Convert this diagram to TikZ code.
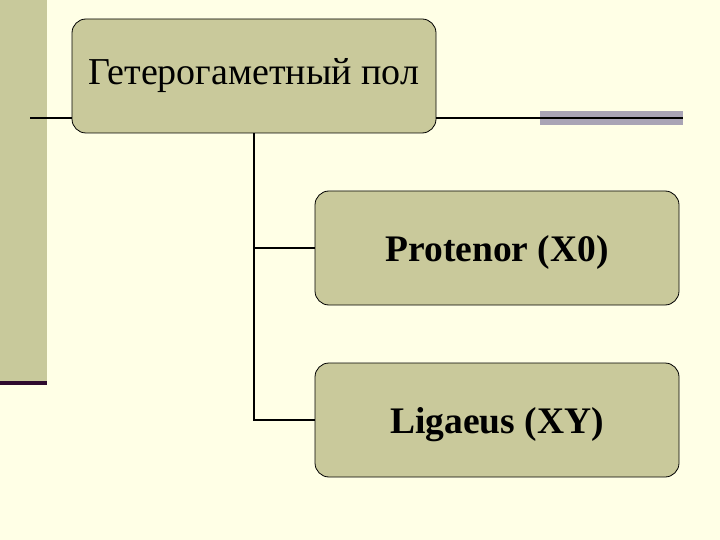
\documentclass[tikz,border=0pt]{standalone}
\usepackage{fontspec}
\setmainfont{Liberation Serif}
\definecolor{bg}{HTML}{FFFFE6}
\definecolor{olive}{HTML}{C9C99B}
\definecolor{band}{HTML}{C8C99B}
\definecolor{barc}{HTML}{A9A4B5}
\definecolor{darkp}{HTML}{2E0A2E}
\tikzset{
  box/.style={draw=black, line width=0.8pt, fill=olive, rounded corners=14pt, minimum width=364pt, minimum height=114pt, inner sep=0pt, font=\fontsize{38}{44}\selectfont},
  bbox/.style={box, font=\fontsize{37.5}{44}\selectfont\bfseries},
  lbl/.style={font=\fontsize{37.5}{44}\selectfont\bfseries, inner sep=0pt},
  conn/.style={line width=1.8pt, draw=black}
}
\begin{document}
\begin{tikzpicture}[x=1pt,y=-1pt]
\useasboundingbox (0,0) rectangle (720,540);
\fill[bg] (0,0) rectangle (720,540);
\fill[band] (0,0) rectangle (47,382);
\fill[darkp] (0,381) rectangle (47,385);
\fill[barc] (540,111) rectangle (683,125);
\node[box] (top) at (254,76) {Гетерогаметный пол};
\node[bbox] (p) at (497,248) {};
\node[lbl] (pt) at (497,252) {Protenor (X0)};
\node[bbox] (l) at (497,420) {};
\node[lbl] (lt) at (497,425) {Ligaeus (XY)};
\coordinate (lf) at (30,118);
\coordinate (rf) at (683,118);
\draw[conn] (lf) -- (lf -| top.west);
\draw[conn] (top.east |- rf) -- (rf);
\draw[conn] (top.south) -- (top.south |- l.west) -- (l.west);
\draw[conn] (top.south |- p.west) -- (p.west);
\end{tikzpicture}
\end{document}
